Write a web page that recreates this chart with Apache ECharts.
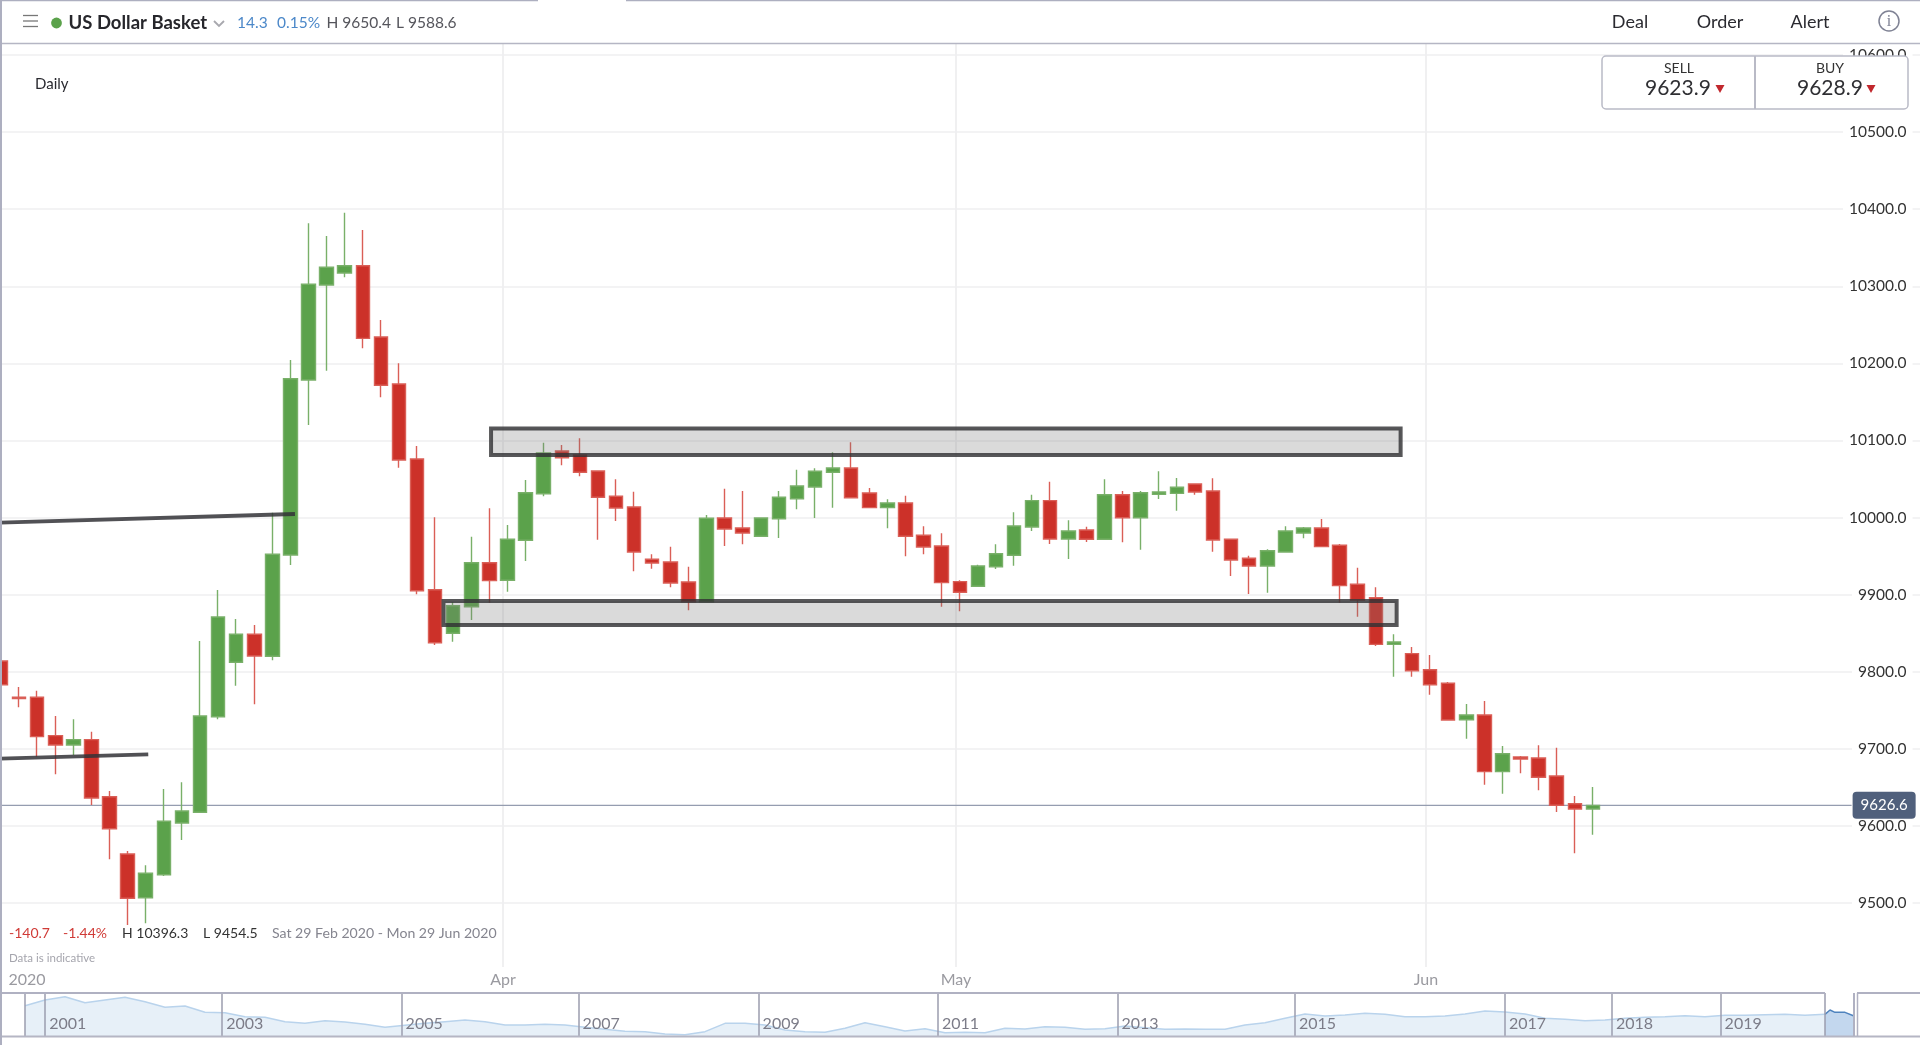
<!DOCTYPE html>
<html><head><meta charset="utf-8">
<style>html,body{margin:0;padding:0;background:#fff;overflow:hidden}#c{width:1920px;height:1045px}</style>
<script src="https://cdn.jsdelivr.net/npm/echarts@6/dist/echarts.min.js"></script>
</head><body><div id="c"></div>
<script>
const dates = ["Feb 28","Mar 1","Mar 2","Mar 3","Mar 4","Mar 5","Mar 6","Mar 8","Mar 9","Mar 10","Mar 11","Mar 12","Mar 13","Mar 15","Mar 16","Mar 17","Mar 18","Mar 19","Mar 20","Mar 22","Mar 23","Mar 24","Mar 25","Mar 26","Mar 27","Mar 29","Mar 30","Mar 31",
"Apr 1","Apr 2","Apr 3","Apr 5","Apr 6","Apr 7","Apr 8","Apr 9","Apr 12","Apr 13","Apr 14","Apr 15","Apr 16","Apr 17","Apr 19","Apr 20","Apr 21","Apr 22","Apr 23","Apr 24","Apr 26","Apr 27","Apr 28","Apr 29","Apr 30",
"May 1","May 3","May 4","May 5","May 6","May 7","May 8","May 10","May 11","May 12","May 13","May 14","May 15","May 17","May 18","May 19","May 20","May 21","May 22","May 24","May 25","May 26","May 27","May 28","May 29","May 31",
"Jun 1","Jun 2","Jun 3","Jun 4","Jun 5","Jun 7","Jun 8","Jun 9","Jun 10","Jun 11"];
const opens = [9813.9,9767,9766.8,9717,9704.9,9711.8,9637.8,9563.5,9506.8,9536.6,9603.7,9617.6,9741.6,9812.2,9848.5,9820,9951.4,10178.4,10301.7,10317.2,10326.7,10234.2,10173.3,10076,9906.4,9849.8,9884.3,9941.4,9918.6,9970.5,10030.9,10086.3,10081.1,10060.4,10027.6,10013.7,9945.8,9942.3,9916.4,9890.8,9999.4,9986.4,9975.7,9998.5,10024.4,10039.6,10058.7,10064.3,10031.8,10012.8,10018.9,9977,9963.1,9916.8,9910.8,9936.2,9951,9987.7,10021.9,9972.2,9983.8,9971.8,10029.6,9999.8,10030.2,10031.4,10043.5,10034.4,9971.8,9947.1,9937.1,9955.3,9980,9986.4,9964,9913.4,9896,9835.5,9823.4,9802.6,9785,9737.7,9743.8,9670.3,9689.3,9688,9664.7,9628.7,9621.9];
const closes = [9783,9765,9715.7,9704.9,9711.8,9636.1,9596.3,9506,9538.5,9605.9,9619.3,9742.5,9871,9848.5,9820.4,9952.3,10180.1,10302.6,10324.7,10326.7,10232.5,10171.6,10074.7,9905.1,9837.6,9885.6,9941.4,9918.1,9971.8,10032.2,10083.7,10077.6,10058.7,10026.3,10012.4,9955.3,9941,9915.1,9890.8,9999,9985.1,9980,9999.4,10026.3,10040.9,10060,10064.3,10025.7,10012.8,10018.9,9975.7,9961.8,9915.5,9903,9937.1,9953.1,9989,10021.9,9972.2,9982.5,9971.8,10029.6,9999.8,10032.2,10033.1,10039.2,10033.1,9970.9,9944.9,9937.1,9957,9982.5,9986.4,9962.2,9911.6,9893,9835.5,9838.5,9801.3,9783.1,9737.3,9743.8,9670.3,9693.6,9686.7,9663,9626.7,9621.9,9626.6];
const lows = [9783,9754,9689.7,9666.9,9691.9,9627,9556.6,9471.4,9473.6,9535,9581.6,9617,9738.2,9781.8,9757.7,9815,9938.4,10120,10190.5,10311.7,10219.6,10156,10064.7,9900.4,9834.6,9838.9,9867,9889.5,9903.8,9943.6,10027.6,10067.8,10053.5,9971.3,9995.5,9930.3,9933.6,9909.5,9879.7,9890,9963.1,9965.3,9975.7,9973.5,10010.7,9999.4,10012.8,10025.7,10012.8,9986,9949.7,9952.3,9884.3,9878.4,9910.8,9933.2,9937.5,9982.5,9965.7,9946.2,9968.3,9971,9967.9,9958.3,10024,10008.9,10029.6,9955.7,9924.2,9900.8,9902.5,9955.3,9973.1,9962,9889.5,9871.4,9833.3,9793.5,9793.5,9770.2,9737,9713.1,9653.4,9641.7,9668.2,9646.1,9618,9564.4,9588.6];
const highs = [9813.9,9780,9775.4,9742.5,9738.2,9722.2,9645.2,9567.4,9548.8,9647.8,9656.5,9839.8,9906,9868.4,9860.6,10006.3,10204.4,10381.8,10365.3,10395.5,10373,10256.3,10200.1,10092.8,10000.3,9890,9975.1,10012,9990.3,10048.7,10097.1,10094.1,10102.8,10061.3,10049.6,10033.5,9952.3,9962.2,9936.2,10003.3,10037.4,10034.4,9999.4,10034.4,10062,10063.9,10084.6,10097.6,10038.3,10023.7,10028.3,9988.6,9979.6,9918.6,9938.8,9965.3,10006.8,10029.6,10046.5,9996.4,9988.1,10049.6,10034.4,10034.4,10060,10051.3,10043.5,10050.9,9971.8,9950.5,9958.8,9988.6,9987.7,9998.1,9965.7,9934.9,9909.5,9848.5,9832,9821.7,9786.6,9758.1,9762,9703.6,9690.6,9704.5,9701.4,9638.7,9650.4];
const lastPrice = 9626.6;
const monthPositions = [27.75,52.79,78.77];
const axisLabelPositions = [1.44,27.75,52.79,78.77];
const axisLabelTexts = ["2020","Apr","May","Jun"];
const zoneUpper = [27.09,77.37,10081,10115.6];
const zoneLower = [24.46,77.15,9860.6,9891.7];
const trendUpper = [[-0.05,9993.3],[16.25,10004.6]];
const trendLower = [[-0.05,9687.1],[8.14,9692.8]];
const miniValues = [10863,11579,12000,11242,11579,11916,11369,10653,10821,10021,9979,9474,9390,8842,8632,8969,8800,8506,8127,8379,8632,8842,9053,8842,8421,
8421,8506,8421,8127,7874,7622,7579,7285,7201,7579,8632,8632,8421,7790,7579,7495,8000,8716,8211,7664,7958,7453,7495,7453,8000,7916,
8211,8127,7874,7958,8295,8085,7874,7916,7874,7874,8421,8716,9263,9811,9558,9684,9895,9769,9474,9474,9558,9811,10190,10063,9811,9263,
9137,8969,9053,9263,9390,9474,9600,9474,9642,9642,9727,9769,9642,9769];
const miniWindow = [[90,9769],[90.25,10316],[90.5,10021],[91,10021],[91.45,9558]];
const miniTickPositions = [0,1.01,9.86,18.83,27.68,36.68,45.65,54.62,63.5,74,79.35,84.78,90];
const miniTickLabels = ["","2001","2003","2005","2007","2009","2011","2013","2015","2017","2018","2019",""];

const FONT = 'Lato, "Open Sans", sans-serif';
const GREEN='#5BA24B', RED='#CC3129', RULE='#ADAFC0';
const bandCount = 107, bandPx = 18.09;
const candles = opens.map((o,i)=>[o,closes[i],lows[i],highs[i]]);
const cats = dates.concat(Array(bandCount-dates.length).fill(''));
const monthSeries = monthPositions.map(p=>({type:'line',xAxisIndex:1,yAxisIndex:0,z:0,silent:true,symbol:'none',
  data:[[p,10700],[p,9417]],lineStyle:{color:'#F0F0F1',width:2}}));
const trendSeries = [trendUpper,trendLower].map(d=>({type:'line',xAxisIndex:1,yAxisIndex:0,z:6,silent:true,symbol:'none',
  data:d,lineStyle:{color:'rgba(50,50,55,0.85)',width:3.8}}));
const t=(text,x,y,size,fill,opt)=>Object.assign({type:'text',z:110,style:Object.assign({text,x,y,fontSize:size,fill,fontFamily:FONT,verticalAlign:'middle'},opt||{})});
const r=(x,y,w,h,fill,z)=>({type:'rect',z:z||105,shape:{x,y,width:w,height:h},style:{fill}});
const hl=(x1,y,x2,c,w)=>({type:'line',z:108,shape:{x1,y1:y,x2,y2:y},style:{stroke:c,lineWidth:w||1.5}});
const vl=(x,y1,y2,c,w)=>({type:'line',z:108,shape:{x1:x,y1,x2:x,y2},style:{stroke:c,lineWidth:w||1.5}});

const chart = echarts.init(document.getElementById('c'),null,{renderer:'canvas'});
chart.setOption({
  animation:false,backgroundColor:'#fff',
  grid:[{left:-8.05,top:-22,width:bandCount*bandPx,height:1002,outerBoundsMode:'none',containLabel:false},
        {left:25,top:993,width:1829,height:43,outerBoundsMode:'none',containLabel:false}],
  xAxis:[
    {type:'category',gridIndex:0,data:cats,show:false},
    {type:'value',gridIndex:0,position:'bottom',min:-0.5,max:106.5,z:8,axisLine:{show:false},axisTick:{show:false},splitLine:{show:false},
      axisLabel:{customValues:axisLabelPositions,margin:-8,fontSize:16,fontFamily:FONT,hideOverlap:false,
        color:v=>v===axisLabelPositions[0]?'#111114':'#9a9aa0',
        formatter:v=>axisLabelTexts[axisLabelPositions.indexOf(v)]||''}},
    {type:'value',gridIndex:1,min:0,max:91.45,z:8,splitLine:{show:false},axisLine:{show:false},
      axisTick:{show:true,inside:true,length:43,customValues:miniTickPositions,lineStyle:{color:'#9C9DAE',width:1.5}},
      axisLabel:{customValues:miniTickPositions,inside:true,margin:4,align:'left',padding:[0,0,0,4],fontSize:16,fontFamily:FONT,color:'#7C7C88',hideOverlap:false,
        formatter:v=>miniTickLabels[miniTickPositions.indexOf(v)]||''}}
  ],
  yAxis:[
    {type:'value',gridIndex:0,position:'right',min:9400,max:10700,interval:100,z:2,axisLine:{show:false},axisTick:{show:false},
      splitLine:{show:true,showMinLine:false,lineStyle:{color:'#EFEFF0',width:1.5}},
      axisLabel:{inside:true,margin:15,showMinLabel:false,showMaxLabel:false,fontSize:15.5,fontFamily:FONT,color:'#333',backgroundColor:'#fff',padding:[1,6,1,6],
        formatter:v=>v.toFixed(1)}},
    {type:'value',gridIndex:1,min:7032,max:12463,show:false,splitLine:{show:false}}
  ],
  series:[
    ...monthSeries,
    {type:'line',xAxisIndex:1,yAxisIndex:0,z:3,silent:true,symbol:'none',data:[[-0.5,lastPrice],[102.3,lastPrice]],lineStyle:{color:'#959DB0',width:1.2},
      endLabel:{show:true,formatter:()=>lastPrice.toFixed(1),color:'#fff',backgroundColor:'#50607C',borderRadius:4,padding:[6,8,6,8],fontSize:15,fontFamily:FONT,distance:1}},
    {type:'candlestick',name:'US Dollar Basket',xAxisIndex:0,yAxisIndex:0,z:4,barWidth:14,data:candles,
      itemStyle:{color:GREEN,color0:RED,borderColor:'#79B069',borderColor0:'#DA5F57',borderWidth:1.4}},
    {type:'custom',xAxisIndex:1,yAxisIndex:0,z:5,silent:true,data:[zoneUpper,zoneLower],clip:true,
      encode:{x:[0,1],y:[2,3]},
      renderItem:(p,api)=>{const a=api.coord([api.value(0),api.value(3)]),b=api.coord([api.value(1),api.value(2)]);
        return {type:'rect',shape:{x:a[0],y:a[1],width:b[0]-a[0],height:b[1]-a[1]},
          style:{fill:'rgba(120,120,120,0.27)',stroke:'rgba(50,50,52,0.82)',lineWidth:4}};}},
    ...trendSeries,
    {type:'line',xAxisIndex:2,yAxisIndex:1,silent:true,symbol:'none',data:miniValues.map((v,i)=>[i,v]),
      lineStyle:{color:'#B9D3EC',width:1.5},areaStyle:{color:'#E7F0F8',opacity:1},z:2},
    {type:'line',xAxisIndex:2,yAxisIndex:1,silent:true,symbol:'none',data:miniWindow,
      lineStyle:{color:'#4F83BE',width:1.5},areaStyle:{color:'#C3D7EE',opacity:1},z:2}
  ],
  graphic:{elements:[
    r(0,0,1920,43,'#fff',100),
    hl(0,43.5,1920,'#B5B6C4',1.5),
    hl(0,0.5,538,RULE,1.5), hl(626,0.5,1920,RULE,1.5),
    r(0,0,2,1045,RULE,109),
    hl(23,15.5,38,'#777',1.3),hl(23,21,38,'#777',1.3),hl(23,26.5,38,'#777',1.3),
    {type:'circle',z:110,shape:{cx:56.5,cy:23,r:5.4},style:{fill:'#5BA24B'}},
    t('US Dollar Basket',68.5,23,18.5,'#26262b',{fontWeight:700}),
    {type:'polyline',z:110,shape:{points:[[214,21],[219,26],[224,21]]},style:{stroke:'#a8a8ae',lineWidth:1.8,fill:null}},
    t('14.3',237,23,15.5,'#4C88C9'),t('0.15%',277,23,15.5,'#4C88C9'),
    t('H 9650.4',326.5,23,15.5,'#55555c'),t('L 9588.6',396,23,15.5,'#55555c'),
    t('Daily',35,84.5,15,'#2a2a30'),
    t('Deal',1630,22,18,'#2a2a30',{align:'center'}),
    t('Order',1720,22,18,'#2a2a30',{align:'center'}),
    t('Alert',1810,22,18,'#2a2a30',{align:'center'}),
    {type:'circle',z:110,shape:{cx:1889,cy:21,r:10},style:{fill:'#fff',stroke:'#7F8294',lineWidth:1.5}},
    t('i',1889,21.5,16,'#7F8294',{align:'center',fontFamily:'"Liberation Serif",serif'}),
    {type:'rect',z:106,shape:{x:1602,y:56,width:306,height:53,r:4},style:{fill:'#fff',stroke:'#B9BAC6',lineWidth:1.5}},
    vl(1755,56,109,'#B9BAC6',2),
    t('SELL',1679,68,14,'#333',{align:'center'}),
    t('BUY',1830,68,14,'#333',{align:'center'}),
    t('9623.9',1645,88,21,'#2f2f33'),t('9628.9',1797,88,21,'#2f2f33'),
    {type:'polygon',z:110,shape:{points:[[1715.5,85],[1724.5,85],[1720,93]]},style:{fill:'#C1272D'}},
    {type:'polygon',z:110,shape:{points:[[1866.5,85],[1875.5,85],[1871,93]]},style:{fill:'#C1272D'}},
    t('-140.7',9,933,14,'#D03B37'),t('-1.44%',63,933,14,'#D03B37'),
    t('H 10396.3',122,933,14,'#333'),t('L 9454.5',203,933,14,'#333'),
    t('Sat 29 Feb 2020 - Mon 29 Jun 2020',272,933,14.1,'#85858f'),
    t('Data is indicative',9,958,11.5,'#a5a5ad'),
    hl(2,993,1825,'#B0B1C2',1.8),hl(1857,993,1920,'#B0B1C2',1.8),hl(2,1036.5,1920,'#B5B6C4',1.8),
    vl(1854,993,1036,'#B0B1C2',2),vl(1857.5,993,1036,'#B0B1C2',1.5)
  ]}
});
</script></body></html>
